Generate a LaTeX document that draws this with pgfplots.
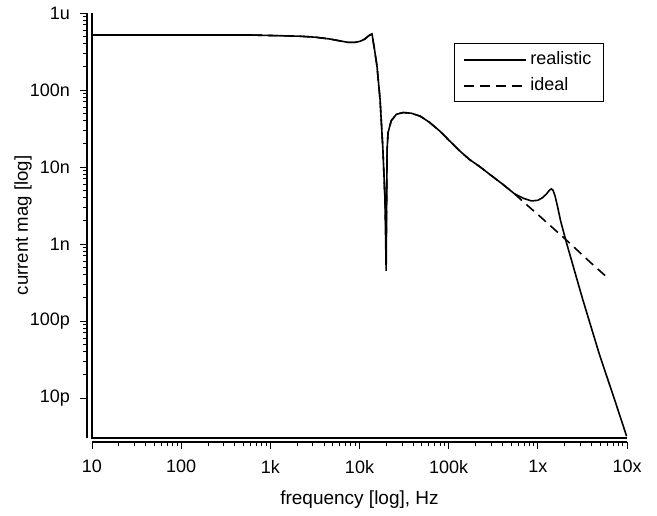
\documentclass[border=0pt]{standalone}
\usepackage{fontspec}
\setmainfont{Liberation Sans}
\usepackage{pgfplots}
\pgfplotsset{compat=1.18}
\begin{document}
\begin{tikzpicture}
\begin{axis}[name=ax,
  scale only axis, width=267.5pt, height=212.5pt,
  xmode=log, ymode=log,
  xmin=10, xmax=1e7, ymin=3.03e-12, ymax=1e-6,
  axis x line*=bottom, axis y line*=left,
  axis x line shift=2pt, axis y line shift=2.5pt,
  tick align=outside,
  major tick length=3.5pt, minor tick length=2pt,
  tick style={black, line width=0.5pt},
  axis line style={line width=0.7pt},
  xtick={10,100,1000,10000,100000,1000000,10000000},
  xticklabels={10,100,1k,10k,100k,1x,10x},
  ytick={1e-11,1e-10,1e-9,1e-8,1e-7,1e-6},
  yticklabels={10p,100p,1n,10n,100n,1u},
  tick label style={font=\fontsize{9}{10}\selectfont},
  xticklabel style={yshift=-2pt},
  yticklabel style={xshift=-1.5pt},
  xlabel={frequency [log], Hz},
  ylabel={current mag [log]},
  every axis x label/.style={at={(axis description cs:0.5,-0.146)}, anchor=center, font=\fontsize{9.5}{11}\selectfont},
  every axis y label/.style={at={(axis description cs:-0.129,0.5)}, anchor=center, rotate=90, font=\fontsize{9.3}{11}\selectfont},
  legend style={at={(rel axis cs:0.957,0.929)}, anchor=north east, draw=black, line width=0.6pt,
    font=\fontsize{9}{10}\selectfont, row sep=1pt, inner xsep=4pt, inner ysep=2pt},
  legend cell align=left,
  legend image code/.code={\draw[#1] (0pt,0pt) -- (31pt,0pt);},
]
\addplot[black, line width=0.8pt] coordinates {
(10,5.18e-7) (100,5.18e-7) (590,5.18e-7) (2100,5.0e-7) (3200,4.85e-7) (4630,4.6e-7)
(6000,4.35e-7) (7500,4.15e-7) (8900,4.15e-7) (10200,4.3e-7) (11500,4.6e-7) (12800,5.1e-7)
(13800,5.35e-7) (14600,3.6e-7) (15700,2.05e-7) (17000,7.6e-8)
(18300,1.7e-8) (19300,3.8e-9) (19900,4.5e-10) (20400,1.7e-8) (20900,2.8e-8)
(22700,4.0e-8) (26000,4.85e-8) (30900,5.1e-8) (38000,5.0e-8) (48000,4.57e-8)
(61000,3.8e-8) (79000,2.95e-8) (100000,2.24e-8) (130000,1.66e-8) (170000,1.26e-8)
(221000,1.02e-8) (300000,7.76e-9) (400000,6.03e-9) (550000,4.47e-9)
(700000,3.9e-9) (850000,3.63e-9) (1.0e6,3.7e-9) (1.13e6,4.0e-9) (1.25e6,4.47e-9)
(1.35e6,5.0e-9) (1.42e6,5.2e-9) (1.48e6,5.0e-9) (1.56e6,4.2e-9) (1.65e6,3.2e-9)
(1.8e6,2.0e-9) (2.08e6,1.07e-9) (3.17e6,1.95e-10) (4.9e6,3.7e-11)
(7.2e6,9.8e-12) (9.9e6,3.2e-12)
};
\addlegendentry{realistic}
\addplot[black, line width=0.8pt, dash pattern=on 5pt off 3pt] coordinates {
(10,5.18e-7) (100,5.18e-7) (590,5.18e-7) (2100,5.0e-7) (3200,4.85e-7) (4630,4.6e-7)
(6000,4.35e-7) (7500,4.15e-7) (8900,4.15e-7) (10200,4.3e-7) (11500,4.6e-7) (12800,5.1e-7)
(13800,5.35e-7) (14600,3.6e-7) (15700,2.05e-7) (17000,7.6e-8)
(18300,1.7e-8) (19300,3.8e-9) (19900,1.07e-9) (20400,1.7e-8) (20900,2.8e-8)
(22700,4.0e-8) (26000,4.85e-8) (30900,5.1e-8) (38000,5.0e-8) (48000,4.57e-8)
(61000,3.8e-8) (79000,2.95e-8) (100000,2.24e-8) (130000,1.66e-8) (170000,1.26e-8)
(221000,1.02e-8) (300000,7.76e-9) (400000,6.03e-9) (550000,4.47e-9)
(700000,3.47e-9) (1.05e6,2.3e-9) (2.1e6,1.12e-9) (4.0e6,5.6e-10) (6.3e6,3.5e-10)
};
\addlegendentry{ideal}
\end{axis}
\draw[line width=0.7pt] (ax.north west) -- (ax.south west) -- (ax.south east);
\path[use as bounding box] ([shift={(-46pt,-35pt)}]ax.south west) rectangle ([shift={(15pt,6.5pt)}]ax.north east);
\end{tikzpicture}
\end{document}
